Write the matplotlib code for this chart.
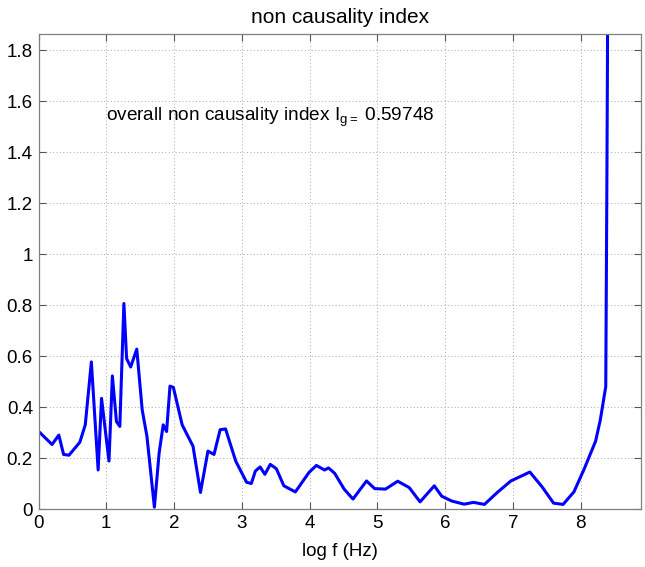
import matplotlib
matplotlib.use("Agg")
import matplotlib.pyplot as plt

plt.rcParams['font.family'] = ['Liberation Sans', 'DejaVu Sans']
plt.rcParams['mathtext.fontset'] = 'custom'
plt.rcParams['mathtext.rm'] = 'Liberation Sans'
plt.rcParams['mathtext.it'] = 'Liberation Sans'

log_f = [0.0, 0.20, 0.30, 0.37, 0.45, 0.61, 0.69, 0.78, 0.88, 0.93, 1.04, 1.09,
         1.15, 1.20, 1.26, 1.30, 1.36, 1.45, 1.53, 1.60, 1.71, 1.78, 1.84, 1.89,
         1.94, 1.99, 2.12, 2.28, 2.39, 2.50, 2.59, 2.68, 2.76, 2.91, 3.07, 3.14,
         3.20, 3.27, 3.34, 3.42, 3.51, 3.62, 3.79, 3.99, 4.10, 4.22, 4.28, 4.37,
         4.51, 4.64, 4.84, 4.96, 5.12, 5.30, 5.47, 5.63, 5.84, 5.95, 6.10, 6.28,
         6.42, 6.58, 6.77, 6.97, 7.25, 7.43, 7.60, 7.74, 7.90, 8.05, 8.22, 8.29,
         8.37, 8.385, 8.395, 8.41]
index = [0.305, 0.253, 0.29, 0.214, 0.211, 0.262, 0.33, 0.577, 0.153, 0.434, 0.188, 0.522,
         0.343, 0.324, 0.806, 0.59, 0.557, 0.627, 0.389, 0.285, 0.007, 0.22, 0.33, 0.304,
         0.482, 0.477, 0.33, 0.246, 0.065, 0.227, 0.214, 0.311, 0.314, 0.188, 0.105, 0.10,
         0.149, 0.165, 0.136, 0.175, 0.158, 0.091, 0.067, 0.143, 0.171, 0.153, 0.161, 0.14,
         0.078, 0.039, 0.11, 0.08, 0.078, 0.109, 0.084, 0.028, 0.091, 0.05, 0.031, 0.019,
         0.026, 0.018, 0.065, 0.11, 0.145, 0.087, 0.023, 0.018, 0.067, 0.156, 0.266, 0.35,
         0.48, 1.2, 1.75, 3.0]

x_ticks = [0, 1, 2, 3, 4, 5, 6, 7, 8]
y_ticks = [0, 0.2, 0.4, 0.6, 0.8, 1.0, 1.2, 1.4, 1.6, 1.8]
y_tick_labels = ['0', '0.2', '0.4', '0.6', '0.8', '1', '1.2', '1.4', '1.6', '1.8']
overall_index = 0.59748

fig = plt.figure(figsize=(6.45, 5.67), dpi=100)
ax = fig.add_axes([38.5/645, 1 - 509/567, (641 - 38.5)/645, (509 - 34)/567])
ax.plot(log_f, index, color='#0000ff', linewidth=2.2)
ax.set_xlim(0, 8.89)
ax.set_ylim(0, 1.863)
ax.set_xticks(x_ticks)
ax.set_yticks(y_ticks)
ax.set_yticklabels(y_tick_labels)
ax.grid(True, linestyle=(0, (1, 2.5)), color='#a8a8a8', linewidth=0.7)
ax.tick_params(direction='in', top=True, right=True, length=5, width=0.8,
               colors='#555555', labelcolor='black', labelsize=13.5, pad=4)
for s in ax.spines.values():
    s.set_color('#808080')
    s.set_linewidth(0.9)
ax.set_title('non causality index', fontsize=15, pad=8)
ax.set_xlabel('log f (Hz)', fontsize=13.5, labelpad=8)
ax.text(1.0, 1.535, 'overall non causality index I$_{\\mathrm{g=}}$ ' + f'{overall_index:.5f}',
        fontsize=13.7, ha='left', va='center')

fig.savefig('out.png', dpi=100)
